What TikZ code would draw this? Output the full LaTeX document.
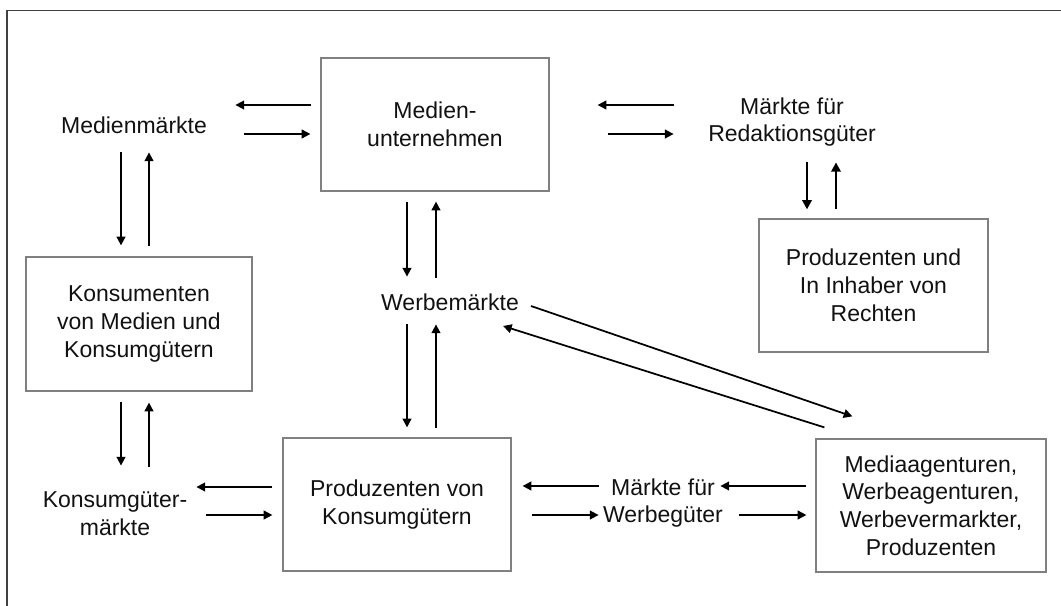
\documentclass[tikz,border=0pt]{standalone}
\usepackage{fontspec}
\setmainfont{Liberation Sans}
\usetikzlibrary{arrows.meta}
\definecolor{boxgray}{HTML}{808080}
\definecolor{framegray}{HTML}{404040}
\definecolor{txt}{HTML}{111111}
\tikzset{
  box/.style={draw=boxgray, line width=0.9pt, align=center, inner sep=2pt, text=txt},
  lbl/.style={align=center, inner sep=0pt, text=txt},
  arr/.style={-{Triangle[length=6.5pt,width=6.5pt]}, line width=1.3pt, black},
  thickarr/.style={-{Triangle[length=7pt,width=7pt]}, line width=2pt, black}
}
\begin{document}
\begin{tikzpicture}[x=0.75pt,y=-0.75pt, font=\fontsize{17.25pt}{20.8pt}\selectfont]
\useasboundingbox (0,0) rectangle (1061,606);
\draw[framegray, line width=0.9pt] (7,606) -- (7,10.5) -- (1061,10.5);

% boxes
\node[box, minimum width=228*0.75pt, minimum height=133*0.75pt] (mu) at (435,124.5) {Medien-\\unternehmen};
\node[box, minimum width=229*0.75pt, minimum height=133*0.75pt] (pir) at (873.5,285.5) {Produzenten und\\In Inhaber von\\Rechten};
\node[box, minimum width=226*0.75pt, minimum height=134*0.75pt] (kon) at (139,324) {Konsumenten\\von Medien und\\Konsumgütern};
\node[box, minimum width=228*0.75pt, minimum height=133*0.75pt] (pvk) at (397,504.5) {Produzenten von\\Konsumgütern};
\node[box, minimum width=230*0.75pt, minimum height=133*0.75pt] (ma) at (931,505.5) {Mediaagenturen,\\Werbeagenturen,\\Werbevermarkter,\\Produzenten};

% labels
\node[lbl] (mm) at (134,125) {Medienmärkte};
\node[lbl] (mrg) at (792,122) {Märkte für\\Redaktionsgüter};
\node[lbl] (wm) at (450,302) {Werbemärkte};
\node[lbl] (kgm) at (115,514) {Konsumgüter-\\märkte};
\node[lbl] (mwg) at (663,503) {Märkte für\\Werbegüter};

% Medienmärkte <-> Medienunternehmen
\draw[arr] ([shift={(-9,-19.5)}]mu.west) -- ([shift={(-85,-19.5)}]mu.west);
\draw[arr] ([shift={(-76,9.5)}]mu.west) -- ([shift={(-10,9.5)}]mu.west);
% Medienunternehmen <-> Märkte für Redaktionsgüter
\draw[arr] ([shift={(124,-19.5)}]mu.east) -- ([shift={(48,-19.5)}]mu.east);
\draw[arr] ([shift={(58,9.5)}]mu.east) -- ([shift={(124,9.5)}]mu.east);
% Medienunternehmen <-> Werbemärkte
\draw[arr] ([shift={(-28,10)}]mu.south) -- ([shift={(-28,85)}]mu.south);
\draw[arr] ([shift={(1,86)}]mu.south) -- ([shift={(1,10)}]mu.south);
% Medienmärkte <-> Konsumenten
\draw[arr] ([shift={(-18,-104)}]kon.north) -- ([shift={(-18,-11)}]kon.north);
\draw[arr] ([shift={(10,-10)}]kon.north) -- ([shift={(10,-104)}]kon.north);
% Konsumenten <-> Konsumgütermärkte
\draw[arr] ([shift={(-18,10)}]kon.south) -- ([shift={(-18,74)}]kon.south);
\draw[arr] ([shift={(10,75)}]kon.south) -- ([shift={(10,11)}]kon.south);
% Konsumgütermärkte <-> Produzenten von Konsumgütern
\draw[arr] ([shift={(-10,-17.5)}]pvk.west) -- ([shift={(-86,-17.5)}]pvk.west);
\draw[arr] ([shift={(-76,10.5)}]pvk.west) -- ([shift={(-10,10.5)}]pvk.west);
% Werbemärkte <-> Produzenten von Konsumgütern
\draw[arr] ([shift={(10,-113)}]pvk.north) -- ([shift={(10,-10)}]pvk.north);
\draw[arr] ([shift={(39,-9)}]pvk.north) -- ([shift={(39,-113)}]pvk.north);
% Produzenten von Konsumgütern <-> Märkte für Werbegüter
\draw[arr] ([shift={(87,-18.5)}]pvk.east) -- ([shift={(11,-18.5)}]pvk.east);
\draw[arr] ([shift={(20,10.5)}]pvk.east) -- ([shift={(87,10.5)}]pvk.east);
% Märkte für Werbegüter <-> Mediaagenturen
\draw[arr] ([shift={(-9,-19.5)}]ma.west) -- ([shift={(-95,-19.5)}]ma.west);
\draw[arr] ([shift={(-76,9.5)}]ma.west) -- ([shift={(-9,9.5)}]ma.west);
% Märkte für Redaktionsgüter <-> Produzenten und Inhaber
\draw[thickarr] ([shift={(-66.5,-56)}]pir.north) -- ([shift={(-66.5,-9)}]pir.north);
\draw[thickarr] ([shift={(-37.5,-9)}]pir.north) -- ([shift={(-37.5,-56)}]pir.north);
% Werbemärkte <-> Mediaagenturen (diagonal)
\draw[arr] ([shift={(81,4)}]wm.center) -- ([shift={(37,-22)}]ma.north west);
\draw[arr] ([shift={(9,-11)}]ma.north west) -- ([shift={(53,24)}]wm.center);
\end{tikzpicture}
\end{document}
